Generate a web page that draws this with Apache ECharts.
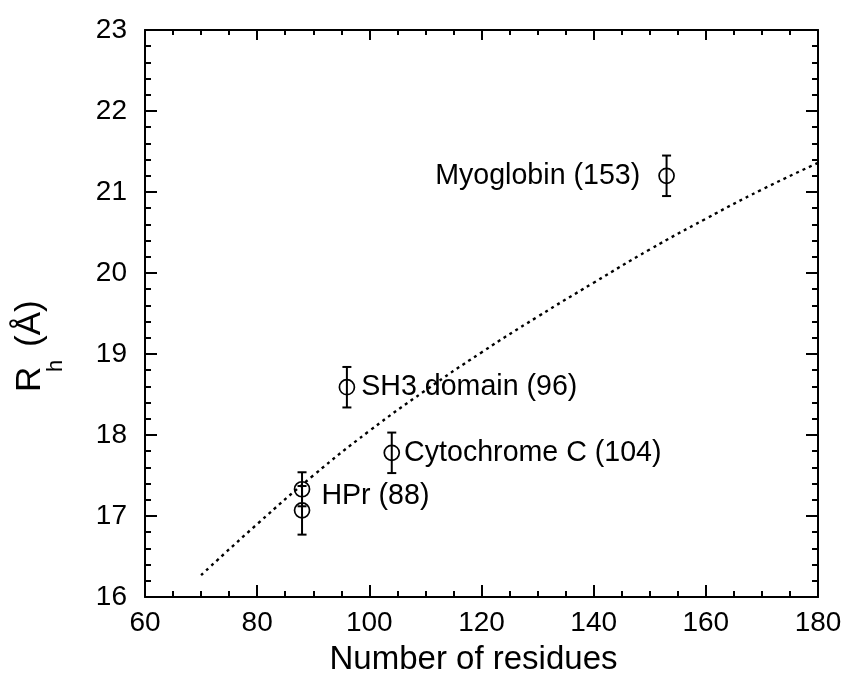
<!DOCTYPE html>
<html>
<head>
<meta charset="utf-8">
<script src="https://cdn.jsdelivr.net/npm/echarts@6/dist/echarts.min.js"></script>
<style>html,body{margin:0;padding:0;background:#fff}#c{width:848px;height:681px}</style>
</head>
<body>
<div id="c"></div>
<script>
// ---- data ----
const residues = [88, 88, 96, 104, 153];
const rh = [17.33, 17.07, 18.59, 17.78, 21.20];
const rhErr = [0.21, 0.30, 0.25, 0.25, 0.25];
const proteinLabels = ['HPr (88)', '', 'SH3 domain (96)', 'Cytochrome C (104)', 'Myoglobin (153)'];
const fitN = [70, 80, 90, 100, 110, 120, 130, 140, 150, 160, 170, 180];
const fitRh = [16.27, 16.90, 17.50, 18.05, 18.55, 19.02, 19.46, 19.88, 20.29, 20.67, 21.03, 21.36];
const xRange = [60, 180];
const yRange = [16, 23];
const xTitle = 'Number of residues';
const yTitleParts = ['R', 'h', '(Å)'];

const FONT = '"Liberation Sans", Arial, sans-serif';
const labelPlacement = [
  {position: 'right', distance: 11, offset: [0, 7]},
  {show: false},
  {position: 'right', distance: 6, offset: [0, 0]},
  {position: 'right', distance: 4, offset: [0, 0]},
  {position: 'left', distance: 18, offset: [0, 0]}
];

const chart = echarts.init(document.getElementById('c'), null, {renderer: 'canvas'});

const axisCommon = {
  axisLine: {show: true, lineStyle: {color: '#000', width: 2}},
  axisTick: {show: true, inside: true, length: 12, lineStyle: {color: '#000', width: 2}},
  minorTick: {show: true, length: 6, lineStyle: {color: '#000', width: 2}},
  splitLine: {show: false}
};

const points = residues.map((n, i) => ({
  value: [n, rh[i]],
  label: Object.assign({
    show: proteinLabels[i] !== '', formatter: proteinLabels[i],
    color: '#000', fontSize: 28.6, fontFamily: FONT
  }, labelPlacement[i])
}));
const bars = residues.map((n, i) => [n, rh[i] - rhErr[i], rh[i] + rhErr[i]]);

// rotated y-axis title pieces (R, subscript h, (Å))
const titleLayout = [
  {x: 30.5, y: 392, size: 35},
  {x: 55.5, y: 372, size: 22},
  {x: 30.5, y: 347, size: 35}
];
const yTitleGraphics = yTitleParts.map((t, i) => ({
  type: 'text',
  x: titleLayout[i].x, y: titleLayout[i].y,
  rotation: Math.PI / 2,
  style: {
    text: t, align: 'left', verticalAlign: 'middle', fill: '#000',
    fontSize: titleLayout[i].size, fontFamily: FONT
  }
}));

const option = {
  animation: false,
  backgroundColor: '#fff',
  grid: {left: 145, right: 30, top: 30, bottom: 83, containLabel: false},
  xAxis: [
    Object.assign({}, axisCommon, {
      type: 'value', min: xRange[0], max: xRange[1], interval: 20, position: 'bottom',
      minorTick: Object.assign({}, axisCommon.minorTick, {splitNumber: 4}),
      axisLabel: {color: '#000', fontSize: 28, fontFamily: FONT, margin: 12},
      name: xTitle, nameLocation: 'middle', nameGap: 46,
      nameTextStyle: {color: '#000', fontSize: 33, fontFamily: FONT, padding: [0, 16, 0, 0]}
    }),
    Object.assign({}, axisCommon, {
      type: 'value', min: xRange[0], max: xRange[1], interval: 20, position: 'top',
      axisTick: Object.assign({}, axisCommon.axisTick, {length: 10}),
      minorTick: Object.assign({}, axisCommon.minorTick, {splitNumber: 4, length: 5}),
      axisLabel: {show: false}
    })
  ],
  yAxis: [
    Object.assign({}, axisCommon, {
      type: 'value', min: yRange[0], max: yRange[1], interval: 1, position: 'left',
      minorTick: Object.assign({}, axisCommon.minorTick, {splitNumber: 5}),
      axisLabel: {color: '#000', fontSize: 28, fontFamily: FONT, margin: 18}
    }),
    Object.assign({}, axisCommon, {
      type: 'value', min: yRange[0], max: yRange[1], interval: 1, position: 'right',
      minorTick: Object.assign({}, axisCommon.minorTick, {splitNumber: 5}),
      axisLabel: {show: false}
    })
  ],
  graphic: yTitleGraphics,
  series: [
    {
      type: 'line', xAxisIndex: 0, yAxisIndex: 0,
      data: fitN.map((n, i) => [n, fitRh[i]]),
      smooth: true, showSymbol: false, symbol: 'none',
      lineStyle: {color: '#000', width: 2.4, type: [3, 4]},
      z: 1
    },
    {
      type: 'custom', xAxisIndex: 0, yAxisIndex: 0,
      data: bars,
      renderItem: function (params, api) {
        const x = api.value(0);
        const top = api.coord([x, api.value(2)]);
        const bot = api.coord([x, api.value(1)]);
        const w = 4.5;
        const st = {stroke: '#000', lineWidth: 2};
        return {
          type: 'group',
          children: [
            {type: 'line', shape: {x1: top[0], y1: top[1], x2: bot[0], y2: bot[1]}, style: st},
            {type: 'line', shape: {x1: top[0] - w, y1: top[1], x2: top[0] + w, y2: top[1]}, style: st},
            {type: 'line', shape: {x1: bot[0] - w, y1: bot[1], x2: bot[0] + w, y2: bot[1]}, style: st}
          ]
        };
      },
      z: 2
    },
    {
      type: 'scatter', xAxisIndex: 0, yAxisIndex: 0,
      data: points,
      symbol: 'circle', symbolSize: 15,
      itemStyle: {color: 'rgba(0,0,0,0)', borderColor: '#000', borderWidth: 1.7, opacity: 1},
      label: {color: '#000', fontSize: 28.6, fontFamily: FONT},
      emphasis: {disabled: true},
      z: 3
    }
  ]
};
chart.setOption(option);
</script>
</body>
</html>
